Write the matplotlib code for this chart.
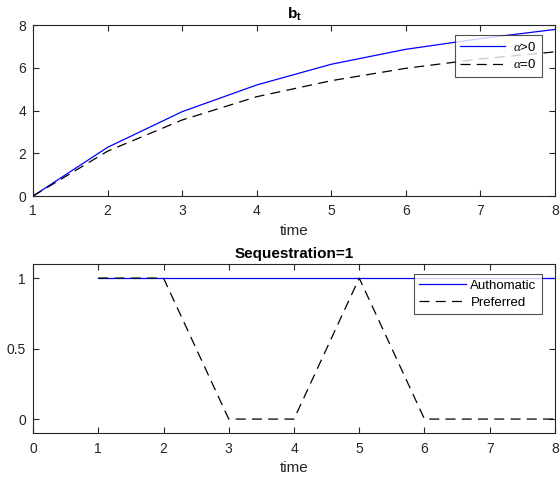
import matplotlib
matplotlib.use("Agg")
import matplotlib.pyplot as plt

plt.rcParams['font.family'] = ['Liberation Sans', 'DejaVu Sans']
plt.rcParams['mathtext.fontset'] = 'custom'
plt.rcParams['mathtext.bf'] = 'Liberation Sans:bold'
plt.rcParams['mathtext.rm'] = 'Liberation Sans'
plt.rcParams['mathtext.it'] = 'Liberation Serif:italic'

# top panel data
t = [1, 2, 3, 4, 5, 6, 7, 8]
b_alpha_pos = [0, 2.28, 3.95, 5.2, 6.17, 6.87, 7.37, 7.8]
b_alpha_zero = [0, 2.1, 3.56, 4.65, 5.4, 5.98, 6.42, 6.75]

# bottom panel data
seq_auto = [1, 1, 1, 1, 1, 1, 1, 1]
seq_pref = [1, 1, 0, 0, 1, 0, 0, 0]

tick_col = '#262626'

fig = plt.figure(figsize=(5.6, 4.84), dpi=100)
ax1 = fig.add_axes([0.059, 0.595, 0.932, 0.353])
ax2 = fig.add_axes([0.059, 0.105, 0.932, 0.3495])


def style(ax):
    for s in ax.spines.values():
        s.set_color(tick_col)
        s.set_linewidth(0.8)
    ax.tick_params(direction='in', top=True, right=True, length=4,
                   width=0.8, colors=tick_col, labelsize=10)
    ax.tick_params(axis='x', pad=6)
    ax.tick_params(axis='y', pad=5)


ax1.plot(t, b_alpha_pos, color='#0000ff', lw=0.9, label=r'$\alpha$>0')
ax1.plot(t, b_alpha_zero, color='black', lw=0.9, ls=(0, (8, 5)), label=r'$\alpha$=0')
ax1.set_xlim(1, 8)
ax1.set_ylim(0, 8)
ax1.set_xticks(range(1, 9))
ax1.set_yticks([0, 2, 4, 6, 8])
ax1.set_xlabel('time', fontsize=11, color=tick_col, labelpad=4)
ax1.set_title(r'$\mathbf{b_t}$', fontsize=11, pad=5)
style(ax1)
leg1 = ax1.legend(loc='upper right', bbox_to_anchor=(0.975, 0.94), fontsize=9.5,
                  frameon=True, fancybox=False, edgecolor=tick_col,
                  handlelength=3.4, handletextpad=0.6, borderpad=0.4,
                  labelspacing=0.35, borderaxespad=0)
leg1.get_frame().set_linewidth(0.8)

ax2.plot(t, seq_auto, color='#0000ff', lw=0.9, label='Authomatic')
ax2.plot(t, seq_pref, color='black', lw=0.9, ls=(0, (8, 5)), label='Preferred')
ax2.set_xlim(0, 8)
ax2.set_ylim(-0.1, 1.1)
ax2.set_xticks(range(0, 9))
ax2.set_yticks([0, 0.5, 1])
ax2.set_yticklabels(['0', '0.5', '1'])
ax2.set_xlabel('time', fontsize=11, color=tick_col, labelpad=4)
ax2.set_title('Sequestration=1', fontsize=11, fontweight='bold', pad=4)
style(ax2)
leg2 = ax2.legend(loc='upper right', bbox_to_anchor=(0.975, 0.94), fontsize=9.5,
                  frameon=True, fancybox=False, edgecolor=tick_col,
                  handlelength=3.6, handletextpad=0.3, borderpad=0.4,
                  labelspacing=0.35, borderaxespad=0)
leg2.get_frame().set_linewidth(0.8)

fig.savefig('out.png', dpi=100)
